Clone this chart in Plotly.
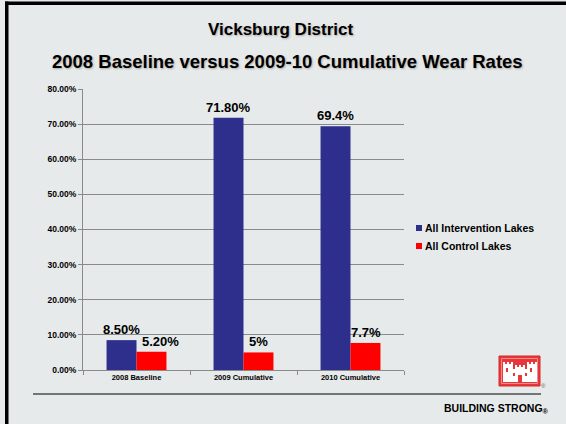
import plotly.graph_objects as go

categories = ["2008 Baseline", "2009 Cumulative", "2010 Cumulative"]
intervention = [0.085, 0.718, 0.694]
control = [0.052, 0.05, 0.077]
intervention_labels = ["8.50%", "71.80%", "69.4%"]
control_labels = ["5.20%", "5%", "7.7%"]
series_names = ["All Intervention Lakes", "All Control Lakes"]
title_main = "Vicksburg District"
title_sub = "2008 Baseline versus 2009-10 Cumulative Wear Rates"

W, H = 566, 424
L, R, T, B = 83, 404, 89, 370
BLUE = "#2E2E8C"
RED = "#FF0000"
FONT = "Liberation Sans, Arial, sans-serif"


def px(x):
    return (x - L) / (R - L)


def py(y):
    return (B - y) / (B - T)


fig = go.Figure()
for vals, nm, col in [(intervention, series_names[0], BLUE), (control, series_names[1], RED)]:
    fig.add_trace(go.Bar(x=categories, y=vals, name=nm,
                         marker=dict(color=col, line=dict(width=0)), showlegend=False))

annotations = []
# value labels above bars (x offset = half a bar within the group)
label_font = dict(size=13, color="black", family=FONT, weight="bold")
for i, cat in enumerate(categories):
    annotations.append(dict(x=cat, y=intervention[i], xref="x", yref="y", text=intervention_labels[i],
                            showarrow=False, xanchor="center", yanchor="bottom", xshift=-15, yshift=1,
                            font=label_font))
    annotations.append(dict(x=cat, y=control[i], xref="x", yref="y", text=control_labels[i],
                            showarrow=False, xanchor="center", yanchor="bottom",
                            xshift=24 if i == 0 else 15, yshift=1, font=label_font))

shapes = []
# slide frame
shapes.append(dict(type="rect", xref="paper", yref="paper", x0=px(5), x1=px(566), y0=py(1.5), y1=py(5),
                   fillcolor="black", line=dict(width=0), layer="above"))
shapes.append(dict(type="rect", xref="paper", yref="paper", x0=px(5), x1=px(8.5), y0=py(1.5), y1=py(424),
                   fillcolor="black", line=dict(width=0), layer="above"))
# bottom rule
shapes.append(dict(type="line", xref="paper", yref="paper", x0=px(33), x1=px(541), y0=py(394), y1=py(394),
                   line=dict(color="black", width=1.2)))
# legend swatches
for i, col in enumerate([BLUE, RED]):
    yc = 228 + 18 * i
    shapes.append(dict(type="rect", xref="paper", yref="paper", x0=px(416), x1=px(422), y0=py(yc + 3),
                       y1=py(yc - 3), fillcolor=col, line=dict(width=0)))
# logo
shapes.append(dict(type="rect", xref="paper", yref="paper", x0=px(499), x1=px(540), y0=py(386), y1=py(356),
                   fillcolor="#E8373A", line=dict(color="#D42A2D", width=1)))
shapes.append(dict(type="rect", xref="paper", yref="paper", x0=px(501.5), x1=px(537.5), y0=py(383.5), y1=py(358.5),
                   fillcolor="rgba(0,0,0,0)", line=dict(color="#F7A0A0", width=0.8)))
castle = [(503, 382), (503, 362), (505, 362), (505, 364), (507, 364), (507, 362), (509, 362), (509, 364),
          (511, 364), (511, 362), (513, 362), (513, 369), (515, 369), (515, 365), (517, 365), (517, 367),
          (519, 367), (519, 365), (521, 365), (521, 367), (523, 367), (523, 365), (525, 365), (525, 369),
          (527, 369), (527, 362), (529, 362), (529, 364), (531, 364), (531, 362), (533, 362), (533, 364),
          (535, 364), (535, 362), (537, 362), (537, 382)]
path = "M " + " L ".join(f"{px(x):.5f},{py(y):.5f}" for x, y in castle) + " Z"
shapes.append(dict(type="path", xref="paper", yref="paper", path=path, fillcolor="white",
                   line=dict(width=0)))
for (x0, y0, x1, y1) in [(518, 375, 522, 382), (506, 368, 508, 372), (530, 368, 532, 372),
                         (513, 373, 515, 376), (525, 373, 527, 376)]:
    shapes.append(dict(type="rect", xref="paper", yref="paper", x0=px(x0), x1=px(x1), y0=py(y1), y1=py(y0),
                       fillcolor="#E8373A", line=dict(width=0)))

annotations += [
    dict(text=title_main, xref="paper", yref="paper", x=px(281), y=py(29), showarrow=False,
         font=dict(size=17, family=FONT, color="black", weight="bold", shadow="1px 1px 2px #aaa"),
         xanchor="center", yanchor="middle"),
    dict(text=title_sub, xref="paper", yref="paper", x=px(287), y=py(62), showarrow=False,
         font=dict(size=18.5, family=FONT, color="black", weight="bold", shadow="1px 1px 2px #aaa"),
         xanchor="center", yanchor="middle"),
    dict(text="BUILDING STRONG<sub>®</sub>", xref="paper", yref="paper", x=px(551), y=py(409), showarrow=False,
         font=dict(size=10.5, family=FONT, color="black", weight="bold"), xanchor="right", yanchor="middle"),
    dict(text="®", xref="paper", yref="paper", x=px(543), y=py(386), showarrow=False,
         font=dict(size=6, family=FONT, color="#666"), xanchor="center", yanchor="middle"),
]
for i, nm in enumerate(series_names):
    annotations.append(dict(text=nm, xref="paper", yref="paper", x=px(423), y=py(228 + 18 * i),
                            showarrow=False, xanchor="left", yanchor="middle",
                            font=dict(size=10.5, family=FONT, color="black", weight="bold")))

fig.update_layout(
    width=W, height=H,
    margin=dict(l=L, r=W - R, t=T, b=H - B, pad=0),
    paper_bgcolor="#E7EAEA",
    plot_bgcolor="rgba(0,0,0,0)",
    barmode="group", bargap=0.44, bargroupgap=0,
    font=dict(family=FONT, color="black"),
    showlegend=False,
    shapes=shapes,
    annotations=annotations,
)
fig.update_yaxes(range=[0, 0.8], dtick=0.1, tickformat=".2%", showgrid=True, gridcolor="#8A8A8A",
                 gridwidth=1, showline=True, linecolor="#8A8A8A", linewidth=1, ticks="outside",
                 ticklen=4, tickcolor="#8A8A8A", zeroline=False,
                 tickfont=dict(size=8.5, family=FONT, color="black", weight="bold"))
fig.update_xaxes(showline=True, linecolor="#8A8A8A", linewidth=1, ticks="outside", ticklen=4,
                 tickcolor="#8A8A8A", tickson="boundaries", showgrid=False,
                 tickfont=dict(size=7.5, family=FONT, color="black", weight="bold"))

fig.write_html("out.html", config={"displayModeBar": False},
               post_script="document.body.style.margin='0';document.body.style.overflow='hidden';")
